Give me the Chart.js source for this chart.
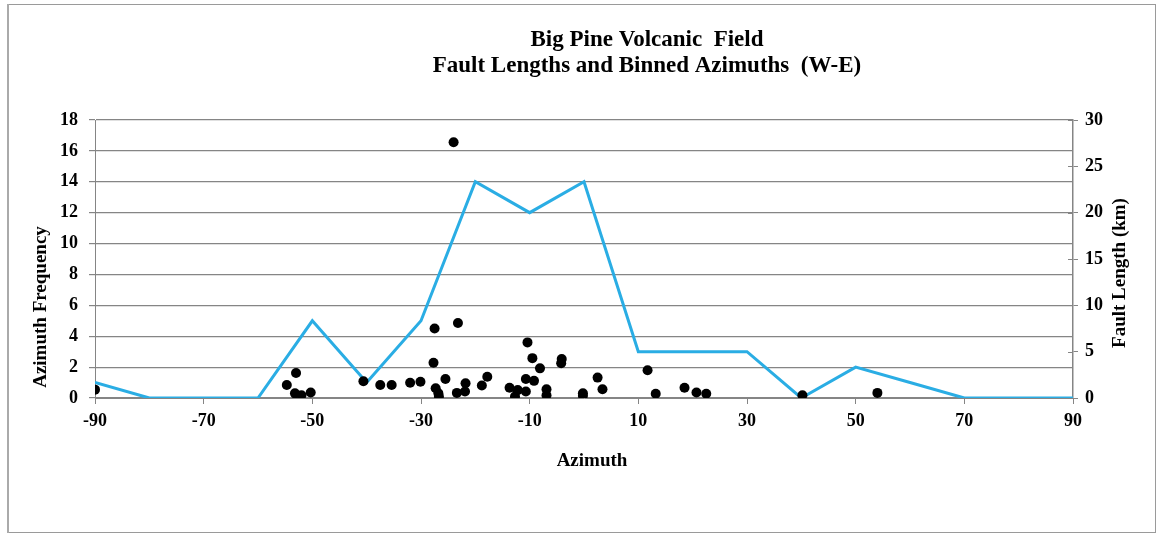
<!DOCTYPE html>
<html>
<head>
<meta charset="utf-8">
<script src="https://cdn.jsdelivr.net/npm/chart.js@4"></script>
<style>
    html, body { margin: 0; padding: 0; background: #fff; }
    #wrap { position: relative; width: 1157px; height: 535px; }
</style>
</head>
<body>
<div id="wrap"><canvas id="faults" width="1157" height="535"></canvas></div>
<script>
// binned azimuth frequency (left axis)
const binAzimuth = [-90, -80, -70, -60, -50, -40, -30, -20, -10, 0, 10, 20, 30, 40, 50, 60, 70, 80, 90];
const binFrequency = [1, 0, 0, 0, 5, 1, 5, 14, 12, 14, 3, 3, 3, 0, 2, 1, 0, 0, 0];

// individual faults: azimuth (deg) and length (km, right axis)
const faultAzimuth = [
    -90, -54.7, -53.0, -53.2, -52.0, -50.3, -40.6, -37.5, -35.4, -32.0,
    -30.1, -27.5, -27.7, -27.3, -26.8, -26.7, -25.5, -24.0, -23.2, -23.4,
    -21.8, -21.9, -18.8, -17.8, -13.7, -12.7, -12.2, -10.7, -10.4, -9.5,
    -10.7, -9.2, -8.1, -6.9, -6.9, -4.1, -4.2, -0.2, -0.2, 2.5,
    3.4, 11.7, 13.2, 18.5, 20.7, 22.5, 40.2, 54.0,
];
const faultLength = [
    0.9, 1.4, 2.7, 0.5, 0.3, 0.6, 1.8, 1.4, 1.4, 1.65,
    1.75, 7.5, 3.8, 1.05, 0.5, 0.15, 2.05, 27.6, 8.1, 0.55,
    1.6, 0.7, 1.35, 2.3, 1.1, 0.15, 0.85, 0.7, 6.0, 4.3,
    2.05, 1.85, 3.2, 0.95, 0.3, 4.2, 3.75, 0.5, 0.25, 2.2,
    0.95, 3.0, 0.45, 1.1, 0.6, 0.45, 0.3, 0.55,
];

const xTicks = [-90, -70, -50, -30, -10, 10, 30, 50, 70, 90];

const titleLines = ['Big Pine Volcanic  Field', 'Fault Lengths and Binned Azimuths  (W-E)'];
const xTitle = 'Azimuth';
const yTitle = 'Azimuth Frequency';
const y1Title = 'Fault Length (km)';

const SERIF = '"Liberation Serif", "Times New Roman", serif';
const GRID = '#858585';
const tickFont = { family: SERIF, size: 18, weight: 'bold' };

// frame, titles and axis captions drawn straight on the canvas
const decorations = {
    id: 'decorations',
    beforeDraw(chart) {
        const { ctx } = chart;
        ctx.save();
        ctx.fillStyle = '#fff';
        ctx.fillRect(0, 0, chart.width, chart.height);
        ctx.strokeStyle = '#9a9a9a';
        ctx.lineWidth = 1;
        ctx.strokeRect(7.5, 4.5, 1148, 528);
        ctx.fillStyle = '#aaa';
        ctx.fillRect(7, 4, 2, 529);
        ctx.restore();
    },
    afterDraw(chart) {
        const { ctx } = chart;
        ctx.save();
        ctx.fillStyle = '#000';
        ctx.textAlign = 'center';
        ctx.textBaseline = 'middle';
        ctx.font = `bold 23px ${SERIF}`;
        ctx.fillText(titleLines[0], 647, 40);
        ctx.fillText(titleLines[1], 647, 66);

        ctx.font = `bold 19px ${SERIF}`;
        ctx.fillText(xTitle, 592, 461);

        ctx.translate(41, 307);
        ctx.rotate(-Math.PI / 2);
        ctx.fillText(yTitle, 0, 0);
        ctx.restore();

        ctx.save();
        ctx.fillStyle = '#000';
        ctx.textAlign = 'center';
        ctx.textBaseline = 'middle';
        ctx.font = `bold 19px ${SERIF}`;
        ctx.translate(1120, 273);
        ctx.rotate(-Math.PI / 2);
        ctx.fillText(y1Title, 0, 0);
        ctx.restore();

        // short inner tick marks on the right axis
        const y1 = chart.scales.y1;
        ctx.save();
        ctx.strokeStyle = GRID;
        ctx.lineWidth = 1;
        y1.ticks.forEach((t) => {
            const py = Math.round(y1.getPixelForValue(t.value)) + 0.5;
            ctx.beginPath();
            ctx.moveTo(y1.left - 5, py);
            ctx.lineTo(y1.left, py);
            ctx.stroke();
        });
        ctx.restore();
    },
};

new Chart(document.getElementById('faults'), {
    type: 'scatter',
    data: {
        datasets: [
            {
                label: 'Fault Length',
                data: faultAzimuth.map((a, i) => ({ x: a, y: faultLength[i] })),
                yAxisID: 'y1',
                order: 0,
                pointRadius: 5,
                pointBackgroundColor: '#000',
                pointBorderColor: '#000',
                pointBorderWidth: 0,
            },
            {
                type: 'line',
                label: 'Azimuth Frequency',
                data: binAzimuth.map((a, i) => ({ x: a, y: binFrequency[i] })),
                yAxisID: 'y',
                order: 1,
                borderColor: '#2aade4',
                borderWidth: 3,
                pointRadius: 0,
                tension: 0,
                fill: false,
            },
        ],
    },
    options: {
        responsive: false,
        animation: false,
        devicePixelRatio: 1,
        layout: { padding: { left: 0, right: 0, top: 120, bottom: 97 } },
        plugins: {
            legend: { display: false },
            tooltip: { enabled: false },
            title: { display: false },
        },
        scales: {
            x: {
                type: 'linear',
                min: -90,
                max: 90,
                afterBuildTicks(scale) {
                    scale.ticks = xTicks.map((v) => ({ value: v }));
                },
                afterFit(scale) { scale.height = 40; },
                grid: {
                    drawOnChartArea: false,
                    color: GRID,
                    tickLength: 6,
                },
                border: { color: GRID, width: 1 },
                ticks: {
                    color: '#000',
                    font: tickFont,
                    padding: 7,
                    maxRotation: 0,
                },
            },
            y: {
                position: 'left',
                min: 0,
                max: 18,
                afterFit(scale) { scale.width = 95; },
                grid: { color: GRID, tickLength: 6, lineWidth: 1.2 },
                border: { color: GRID, width: 1 },
                ticks: {
                    stepSize: 2,
                    color: '#000',
                    font: tickFont,
                    padding: 11,
                },
            },
            y1: {
                position: 'right',
                min: 0,
                max: 30,
                afterFit(scale) { scale.width = 84; },
                grid: { drawOnChartArea: false, color: GRID, tickLength: 5 },
                border: { color: GRID, width: 1.5 },
                ticks: {
                    stepSize: 5,
                    color: '#000',
                    font: tickFont,
                    padding: 7,
                },
            },
        },
    },
    plugins: [decorations],
});
</script>
</body>
</html>
